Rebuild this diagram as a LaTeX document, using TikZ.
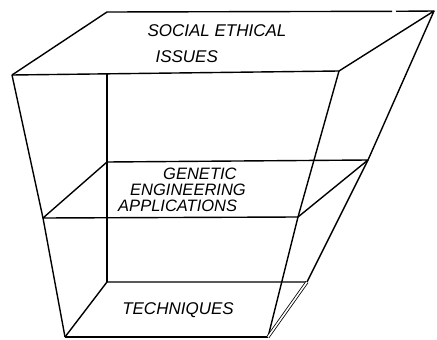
\documentclass[tikz,border=0pt]{standalone}
\usepackage{fontspec}
\setsansfont{Liberation Sans}
\begin{document}
\begin{tikzpicture}[x=1pt,y=-1pt,line join=round,
  edge/.style={line width=1.4pt},
  lbl/.style={font=\sffamily\itshape\fontsize{17}{17}\selectfont,align=left,inner sep=0pt}]
\useasboundingbox (0,0) rectangle (437,340);
\coordinate (tbl) at (107,12); \coordinate (tbr) at (434,11); \coordinate (tfr) at (339,71); \coordinate (tfl) at (12,75);
\coordinate (gapl) at (392,11.3); \coordinate (gapr) at (396,11.3); \coordinate (tbv) at (107,74);
\coordinate (mbl) at (107,162); \coordinate (mbr) at (368,160); \coordinate (mfr) at (298,217); \coordinate (mfl) at (43,218);
\coordinate (bbl) at (107,282); \coordinate (bbr) at (307,282); \coordinate (bfr) at (268,337); \coordinate (bfl) at (65,337);
\draw[edge] (tfl)--(tbl)--(gapl); \draw[edge] (gapr)--(tbr)--(tfr)--(tfl);
\draw[edge] (tbr)--(mbr)--(bbr); \draw[edge] (tfr)--(mfr)--(bfr); \draw[edge] (tfl)--(mfl)--(bfl);
\draw[edge] (tbv)--(bbl);
\draw[edge] (mfl)--(mbl)--(mbr)--(mfr)--cycle;
\draw[edge] (bfl)--(bbl)--(bbr); \draw[edge] (bfl)--(bfr);
\draw[line width=.8pt,double,double distance=1.6pt] (bbr)--(bfr);
\node[lbl] (social) at (217,44) {SOCIAL ETHICAL\\[9pt]\hspace*{8pt}ISSUES};
\node[lbl,font=\sffamily\itshape\fontsize{16.5}{16}\selectfont] (genetic) at (182,190) {\hspace*{45pt}GENETIC\\\hspace*{12pt}ENGINEERING\\APPLICATIONS};
\node[lbl] (techniques) at (178,310) {TECHNIQUES};
\end{tikzpicture}
\end{document}
